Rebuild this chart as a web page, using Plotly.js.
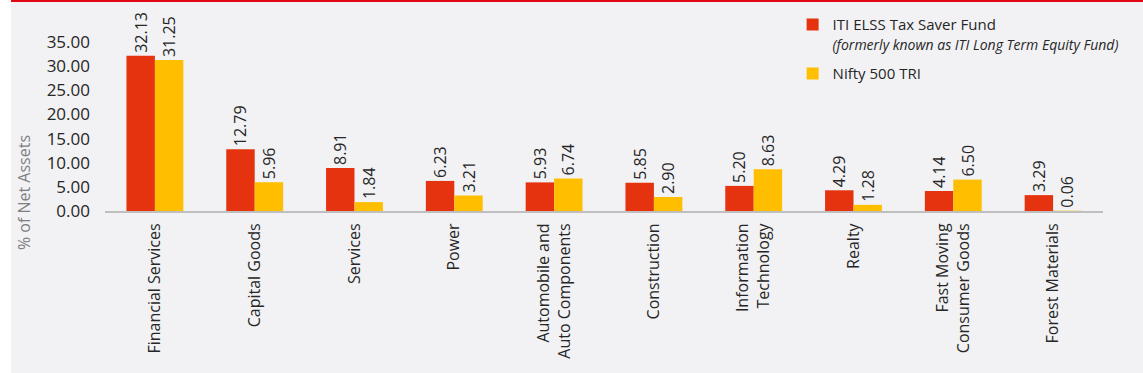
<!DOCTYPE html>
<html>
<head>
<meta charset="utf-8">
<script src="https://cdn.plot.ly/plotly-3.0.1.min.js"></script>
<style>
html,body{margin:0;padding:0;background:#ffffff;}
#wrap{position:absolute;left:11px;top:0;width:1132px;height:373px;background:#f2f2f4;border-top:2px solid #e30613;box-sizing:border-box;}
#chart{width:1132px;height:371px;}
</style>
</head>
<body>
<div id="wrap"><div id="chart"></div></div>
<script>
const categories = ["Financial Services","Capital Goods","Services","Power","Automobile and<br>Auto Components","Construction","Information<br>Technology","Realty","Fast Moving<br>Consumer Goods","Forest Materials"];
const fundValues = [32.13,12.79,8.91,6.23,5.93,5.85,5.20,4.29,4.14,3.29];
const niftyValues = [31.25,5.96,1.84,3.21,6.74,2.90,8.63,1.28,6.50,0.06];
const fundName = "ITI ELSS Tax Saver Fund<br><span style='font-size:14px'><i>(formerly known as ITI Long Term Equity Fund)</i></span>";
const niftyName = "Nifty 500 TRI";
const yTitle = "% of Net Assets";

const common = {
  type: 'bar',
  x: categories,
  texttemplate: '%{y:.2f}',
  textposition: 'outside',
  textangle: -90,
  cliponaxis: false,
  constraintext: 'none',
  textfont: {family: 'Open Sans', size: 16, color: '#262626'},
  hoverinfo: 'skip'
};
const traces = [
  Object.assign({}, common, {y: fundValues, name: fundName, legendgroup: 'fund', marker: {color: '#e5330f'}}),
  Object.assign({}, common, {y: niftyValues, name: niftyName, legendgroup: 'nifty', marker: {color: '#ffbf00'}})
];
const layout = {
  width: 1132, height: 371,
  margin: {l: 94, r: 40, t: 40, b: 162, autoexpand: false},
  paper_bgcolor: '#f2f2f4', plot_bgcolor: '#f2f2f4',
  barmode: 'group', bargap: 0.43, bargroupgap: 0,
  font: {family: 'Open Sans', color: '#262626'},
  xaxis: {
    showline: true, linecolor: '#bfbfbf', linewidth: 2,
    ticks: '', tickangle: -90, showgrid: false, zeroline: false,
    tickfont: {family: 'Open Sans', size: 16, color: '#262626'},
    ticklabelstandoff: 4
  },
  yaxis: {
    range: [0, 35], dtick: 5, tickformat: '.2f', showgrid: false, zeroline: false,
    showline: false, ticks: '',
    tickfont: {family: 'Open Sans', size: 17, color: '#262626'},
    ticklabelstandoff: 14
  },
  legend: {
    x: 0.689, y: 1.20, xanchor: 'left', yanchor: 'top', valign: 'top',
    bgcolor: 'rgba(0,0,0,0)', tracegroupgap: 7,
    font: {family: 'Open Sans', size: 15, color: '#262626'}
  },
  annotations: [{
    text: yTitle, xref: 'paper', yref: 'paper', x: -0.081, y: 0.107,
    xanchor: 'center', yanchor: 'middle', textangle: -90, showarrow: false,
    font: {family: 'Open Sans', size: 16, color: '#7f7f7f'}
  }]
};
Plotly.newPlot('chart', traces, layout, {displayModeBar: false, staticPlot: true});
</script>
</body>
</html>
